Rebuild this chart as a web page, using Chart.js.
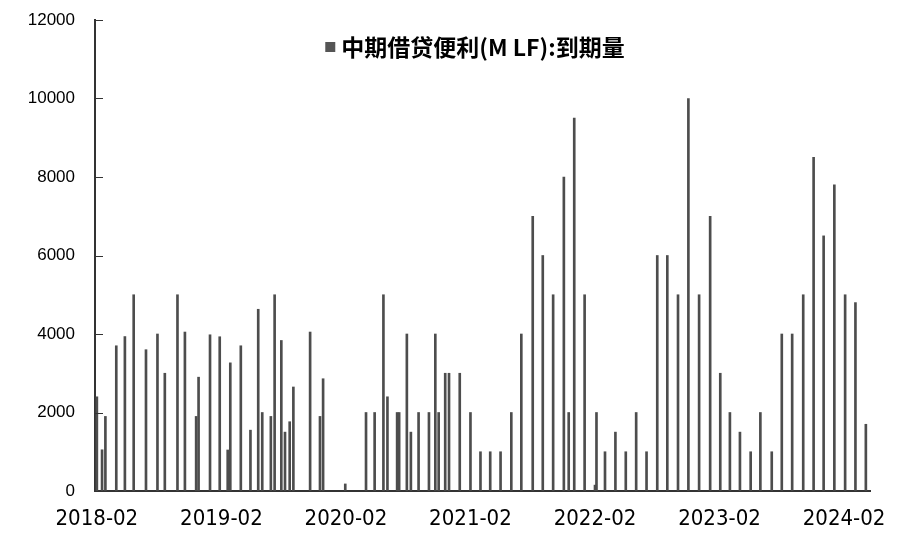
<!DOCTYPE html>
<html>
<head>
<meta charset="utf-8">
<script src="https://cdn.jsdelivr.net/npm/chart.js@4.4.1/dist/chart.umd.min.js"></script>
<style>
  html, body { margin: 0; background: #fff; }
  #wrap { width: 900px; height: 536px; }
</style>
</head>
<body>
<div id="wrap"><canvas id="mlfChart"></canvas></div>
<script>
// maturity dates and amounts
var dates = [
  '2018-02-01','2018-02-15','2018-02-24','2018-03-28','2018-04-22','2018-05-18','2018-06-23',
  '2018-07-27','2018-08-18','2018-09-24','2018-10-16','2018-11-18','2018-11-25','2018-12-29',
  '2019-01-27','2019-02-18','2019-02-25','2019-03-28','2019-04-25','2019-05-18','2019-05-30',
  '2019-06-24','2019-07-05','2019-07-25','2019-08-05','2019-08-19','2019-08-30','2019-10-18',
  '2019-11-16','2019-11-25','2020-01-30','2020-03-30','2020-04-24','2020-05-20','2020-06-01',
  '2020-06-29','2020-07-05','2020-07-28','2020-08-09','2020-09-01','2020-10-01','2020-10-20',
  '2020-10-30','2020-11-18','2020-11-29','2020-12-31','2021-02-01','2021-02-28','2021-03-29',
  '2021-04-28','2021-05-30','2021-06-28','2021-08-01','2021-08-31','2021-09-30','2021-11-01',
  '2021-11-15','2021-12-01','2022-01-01','2022-02-01','2022-02-05','2022-02-28','2022-03-31',
  '2022-04-30','2022-05-31','2022-06-30','2022-08-01','2022-08-31','2022-10-01','2022-11-01',
  '2022-12-02','2023-01-04','2023-02-03','2023-03-01','2023-03-31','2023-05-01','2023-05-30',
  '2023-07-02','2023-08-01','2023-09-01','2023-10-03','2023-11-03','2023-12-02','2024-01-03',
  '2024-02-04','2024-03-04','2024-04-04'
];
var maturity = [
  2400, 1050, 1900, 3700, 3935, 5000, 3600,
  4000, 3000, 5000, 4050, 1900, 2900, 3980,
  3930, 1045, 3265, 3700, 1550, 4630, 2000,
  1900, 5000, 3835, 1500, 1765, 2650, 4050,
  1900, 2860, 180, 2000, 2000, 5000, 2400,
  2000, 2000, 4000, 1500, 2000, 2000, 4000,
  2000, 3000, 3000, 3000, 2000, 1000, 1000,
  1000, 2000, 4000, 7000, 6000, 5000, 8000,
  2000, 9500, 5000, 150, 2000, 1000, 1500,
  1000, 2000, 1000, 6000, 6000, 5000, 10000,
  5000, 7000, 3000, 2000, 1500, 1000, 2000,
  1000, 4000, 4000, 5000, 8500, 6500, 7800,
  5000, 4800, 1700
];
var xTickLabels = ['2018-02','2019-02','2020-02','2021-02','2022-02','2023-02','2024-02'];
var yTicks = [0, 2000, 4000, 6000, 8000, 10000, 12000];
var seriesLabel = '中期借贷便利(M LF):到期量';

// months elapsed since 2018-02-01, so the x scale can stay linear
function monthIndex(s) {
  var p = s.split('-');
  var y = +p[0], m = +p[1], d = +(p[2] || 1);
  var dim = new Date(y, m, 0).getDate();
  return (y - 2018) * 12 + (m - 2) + (d - 1) / dim;
}

var points = dates.map(function (d, i) { return { x: monthIndex(d), y: maturity[i] }; });
var xTickValues = xTickLabels.map(function (l) { return monthIndex(l + '-01'); });

var barColor = '#4d4d4d';

// inward tick marks on the value axis + legend drawn inside the plot
var extras = {
  id: 'extras',
  afterDraw: function (chart) {
    var ctx = chart.ctx, area = chart.chartArea, ys = chart.scales.y;
    ctx.save();
    ctx.strokeStyle = '#333';
    ctx.lineWidth = 1;
    yTicks.forEach(function (v) {
      var py = Math.round(ys.getPixelForValue(v)) + 0.5;
      ctx.beginPath();
      ctx.moveTo(area.left, py);
      ctx.lineTo(area.left + 8, py);
      ctx.stroke();
    });

    ctx.font = 'bold 23px "Noto Sans CJK SC", sans-serif';
    ctx.textBaseline = 'middle';
    var tw = ctx.measureText(seriesLabel).width;
    var total = 10 + 6 + tw;
    var cx = 475, cy = 47;
    var x0 = cx - total / 2;
    ctx.fillStyle = '#555';
    ctx.fillRect(x0, cy - 5, 10, 10);
    ctx.fillStyle = '#000';
    ctx.fillText(seriesLabel, x0 + 16, cy);
    ctx.restore();
  }
};

var ctx = document.getElementById('mlfChart').getContext('2d');
var mlfChart = new Chart(ctx, {
  type: 'bar',
  data: {
    datasets: [{
      label: seriesLabel,
      data: points,
      backgroundColor: barColor,
      borderWidth: 0,
      barThickness: 2,
      grouped: false
    }]
  },
  options: {
    responsive: true,
    maintainAspectRatio: false,
    animation: false,
    layout: { padding: { top: 20, right: 30, bottom: 0, left: 0 } },
    plugins: {
      legend: { display: false },
      tooltip: { enabled: false }
    },
    scales: {
      x: {
        type: 'linear',
        offset: false,
        min: -0.18,
        max: 74.5,
        grid: { drawOnChartArea: false, drawTicks: false, offset: false },
        border: { color: '#333', width: 2 },
        afterBuildTicks: function (scale) {
          scale.ticks = xTickValues.map(function (v) { return { value: v }; });
        },
        afterFit: function (scale) {
          scale.height = 45;
          scale.paddingLeft = 0;
          scale.paddingRight = 0;
        },
        ticks: {
          padding: 15,
          maxRotation: 0,
          autoSkip: false,
          color: '#000',
          font: { family: '"Liberation Sans Narrow", "DejaVu Sans Condensed", sans-serif', size: 22 },
          callback: function (v) {
            var i = xTickValues.indexOf(v);
            return i >= 0 ? xTickLabels[i] : '';
          }
        }
      },
      y: {
        min: 0,
        max: 12000,
        grid: { drawOnChartArea: false, drawTicks: false },
        border: { color: '#333', width: 2 },
        afterFit: function (scale) {
          scale.width = 95;
          scale.paddingTop = 0;
          scale.paddingBottom = 0;
        },
        ticks: {
          stepSize: 2000,
          padding: 20,
          color: '#000',
          font: { family: '"Liberation Sans", Arial, sans-serif', size: 17 },
          callback: function (v) { return String(v); }
        }
      }
    }
  },
  plugins: [extras]
});
</script>
</body>
</html>
